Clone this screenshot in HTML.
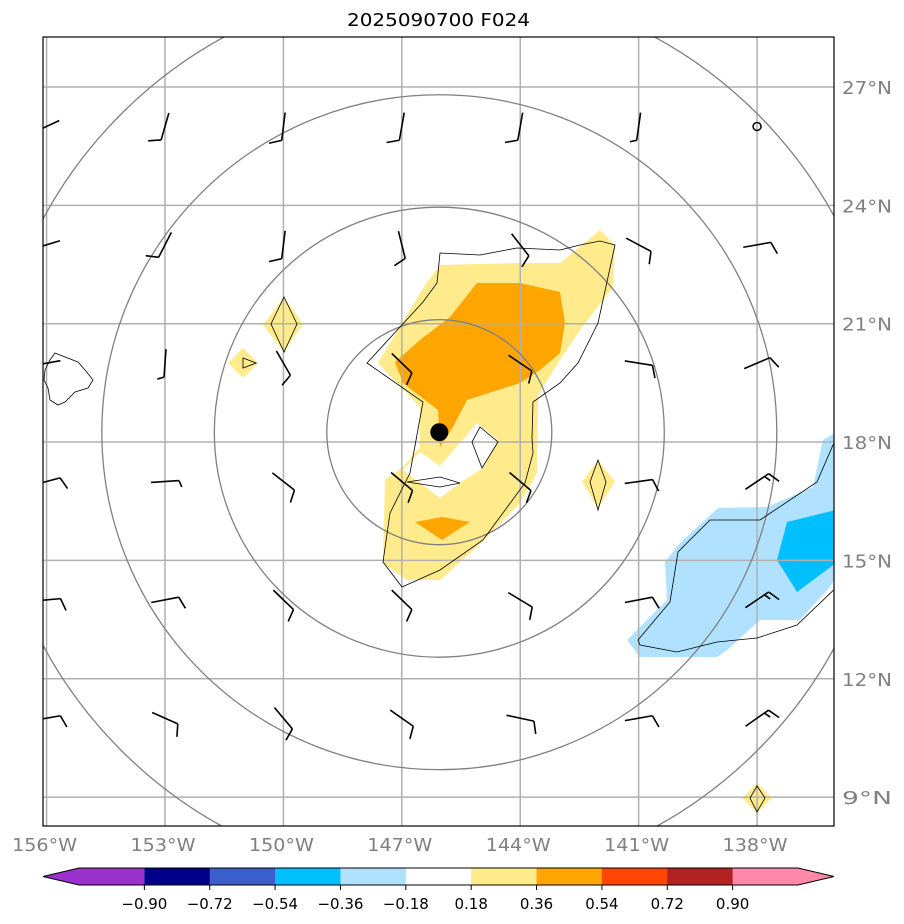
<!DOCTYPE html>
<html><head><meta charset="utf-8"><style>
html,body{margin:0;padding:0;background:#fff;}
svg{display:block;font-family:"DejaVu Sans","Liberation Sans",sans-serif;}
</style></head><body>
<svg id="chart" width="904" height="924" viewBox="0 0 904 924" xmlns="http://www.w3.org/2000/svg">
<text x="438.5" y="26" font-size="18" text-anchor="middle" textLength="183" lengthAdjust="spacingAndGlyphs">2025090700 F024</text>
<defs><clipPath id="mapclip"><rect x="43" y="37" width="791" height="789"/></clipPath></defs>
<rect x="43" y="37" width="791" height="789" fill="#fff"/>
<g id="fills" clip-path="url(#mapclip)"></g>
<g id="grid" clip-path="url(#mapclip)"></g>
<g id="lines" clip-path="url(#mapclip)"></g>
<g id="barbs" clip-path="url(#mapclip)"></g>
<rect x="43" y="37" width="791" height="789" fill="none" stroke="#000" stroke-width="1.2"/>
<g id="axes"></g>
<g id="cbar"></g>
</svg>
<script>
const lonTicks=[-156,-153,-150,-147,-144,-141,-138];
const latTicks=[27,24,21,18,15,12,9];
const ringRadiiDeg=[2.85,5.7,8.55,11.4];
const stormCenter=[-146.05,18.25];
const barbLons=[-156,-153,-150,-147,-144,-141,-138];
const barbLats=[26,23,20,17,14,11];
const barbAngles=[
 [155,106,97,100,100,98,0],
 [163,117,97,76,52,28,-10],
 [170,94,60,44,34,9,-23],
 [-15,-4,38,40,40,-8,-34],
 [-5,-11,44,44,31,-11,-34],
 [-10,24,50,35,12,-10,-35]];
const barbSpeeds=[
 [10,10,10,10,10,5,0],
 [10,10,10,10,10,10,10],
 [10,5,10,10,10,10,10],
 [10,5,10,10,10,10,15],
 [10,10,10,10,10,10,15],
 [10,10,10,10,10,10,15]];
const cbLevels=[-0.90,-0.72,-0.54,-0.36,-0.18,0.18,0.36,0.54,0.72,0.90];
const cbColors=["#9932cc","#00008b","#3a5fcd","#00bfff","#b0e2ff","#ffffff","#ffeb8c","#ffa500","#ff4500","#b22222","#ff88aa"];
const LON0=-153,X0=165,DX=39.47,LAT0=27,Y0=87,DY=39.45;
function X(lon){return X0+(lon-LON0)*DX;}
function Y(lat){return Y0+(LAT0-lat)*DY;}
function P(px,py){return [LON0+(px-X0)/DX,LAT0-(py-Y0)/DY];}
function poly(list){return list.map(p=>P(p[0],p[1]));}
const yellowMain=poly([[440,265],[520,263],[560,263],[600,230],[615,245],[613,287],[580,330],[560,360],[538,395],[538,407],[537,473],[520,503],[477,547],[440,580],[407,580],[383,563],[385,480],[403,467],[420,447],[420,407],[378,363],[425,285]]);
const whiteHole=poly([[403,470],[420,452],[440,466],[477,423],[498,440],[483,468],[460,483],[440,498]]);
const orangeMain=poly([[477,283],[520,283],[560,292],[565,323],[560,353],[540,370],[520,383],[467,400],[453,427],[440,447],[438,410],[403,383],[395,362],[420,340],[450,317]]);
const orangeSmall=poly([[415,522],[442,517],[470,522],[442,540]]);
const yellowDiamonds=[poly([[263,325],[284,297],[303,324],[284,352]]),poly([[228,363],[243,348],[258,363],[243,378]]),poly([[582,482],[598,460],[615,482],[598,508]]),poly([[742,798],[757,783],[772,798],[757,813]])];
const blueLight=poly([[718,508],[767,507],[813,487],[823,440],[836,432],[836,577],[830,587],[800,620],[760,620],[727,650],[717,657],[640,657],[627,640],[667,600],[665,562],[680,543]]);
const blueDark=poly([[787,522],[836,510],[836,563],[797,592],[777,560]]);
const lineMain=poly([[440,253],[480,255],[517,248],[560,250],[580,245],[600,241],[615,245],[598,323],[578,363],[560,383],[533,402],[532,438],[533,453],[525,483],[483,540],[440,570],[402,587],[383,562],[390,513],[410,473],[423,402],[367,363],[400,327],[423,302],[437,283]]);
const lineInner=[poly([[480,427],[498,442],[482,468],[472,442]]),poly([[407,482],[440,477],[460,483],[440,487]]),poly([[284,297],[297,324],[284,352],[271,324]]),poly([[243,358],[256,363],[243,368]]),poly([[598,460],[606,482],[598,510],[590,482]]),poly([[757,786],[765,798],[757,812],[750,798]])];
const lineBlue=poly([[840,436],[833,445],[817,482],[760,520],[710,520],[678,552],[670,602],[638,640],[640,645],[677,652],[717,642],[757,638],[797,625],[840,584]]);
const hawaii=poly([[50,360],[55,353],[65,357],[78,362],[85,370],[93,380],[88,388],[75,392],[65,402],[58,405],[50,400],[48,388],[44,380],[45,370]]);
const NS="http://www.w3.org/2000/svg";
function el(tag,attrs,parent){const e=document.createElementNS(NS,tag);for(const k in attrs)e.setAttribute(k,attrs[k]);parent.appendChild(e);return e;}
function pts(a){return a.map(p=>X(p[0]).toFixed(1)+","+Y(p[1]).toFixed(1)).join(" ");}
const fills=document.getElementById('fills');
function fillPoly(a,c,name){const e=el('polygon',{points:pts(a),fill:c},fills);

}
fillPoly(yellowMain,"#ffeb8c","fill-0p18-main");
fillPoly(whiteHole,"#ffffff","fill-gap");
fillPoly(orangeMain,"#ffa500","fill-0p36-main");
fillPoly(orangeSmall,"#ffa500","fill-0p36-small");
yellowDiamonds.forEach(d=>fillPoly(d,"#ffeb8c","fill-0p18-spot"));
fillPoly(blueLight,"#b0e2ff","fill-neg0p18");
fillPoly(blueDark,"#00bfff","fill-neg0p36");
const grid=document.getElementById('grid');
lonTicks.forEach(l=>{const e=el('line',{x1:X(l),x2:X(l),y1:37,y2:826,stroke:"#b0b0b0","stroke-width":1.5},grid);

});
latTicks.forEach(l=>{const e=el('line',{y1:Y(l),y2:Y(l),x1:43,x2:834,stroke:"#b0b0b0","stroke-width":1.5},grid);

});
const lines=document.getElementById('lines');
ringRadiiDeg.forEach(r=>{const e=el('circle',{cx:X(stormCenter[0]),cy:Y(stormCenter[1]),r:r*DX,fill:"none",stroke:"#808080","stroke-width":1.3},lines);

});
function linePoly(a,closed,name){const e=el(closed?'polygon':'polyline',{points:pts(a),fill:"none",stroke:"#000","stroke-width":0.8},lines);

}
linePoly(lineMain,true,"contour-line-main");
lineInner.forEach(a=>linePoly(a,true,"contour-line-inner"));
linePoly(lineBlue,false,"contour-line-negative");
linePoly(hawaii,true,"coastline-hawaii");
const dot=el('circle',{cx:X(stormCenter[0]),cy:Y(stormCenter[1]),r:9,fill:"#000"},lines);


const barbs=document.getElementById('barbs');
const L=28;
barbLats.forEach((lat,i)=>barbLons.forEach((lon,j)=>{
 const cx=X(lon),cy=Y(lat),s=barbSpeeds[i][j],a=barbAngles[i][j]*Math.PI/180;
 const g=el('g',{},barbs);
 
 
 if(s===0){el('circle',{cx:cx,cy:cy,r:4,fill:"none",stroke:"#000","stroke-width":1.5},g);return;}
 const dx=Math.cos(a),dy=Math.sin(a);
 const x1=cx-dx*L/2,y1=cy-dy*L/2,x2=cx+dx*L/2,y2=cy+dy*L/2;
 let d=`M${x1},${y1}L${x2},${y2}`;
 const ta=a+70*Math.PI/180,tx=Math.cos(ta),ty=Math.sin(ta);
 let rem=s,pos=0;
 while(rem>0){const len=rem>=10?13:7;const bx=x2-dx*pos,by=y2-dy*pos;
  d+=`M${bx},${by}l${tx*len},${ty*len}`;rem-=rem>=10?10:5;pos+=5;}
 el('path',{d:d,fill:"none",stroke:"#000","stroke-width":1.6},g);
}));
const axes=document.getElementById('axes');
lonTicks.forEach(l=>{const t=el('text',{x:X(l)-2,y:851,"font-size":18,fill:"#808080","text-anchor":"middle",textLength:65,lengthAdjust:"spacingAndGlyphs"},axes);t.textContent=(-l)+"°W";

});
latTicks.forEach(l=>{const t=el('text',{x:842,y:Y(l)+7,"font-size":18,fill:"#808080",textLength:50,lengthAdjust:"spacingAndGlyphs"},axes);t.textContent=l+"°N";

});
const cb=document.getElementById('cbar');
const cbx0=79,cbx1=798,cby=868,cbh=17,seg=(cbx1-cbx0)/cbColors.length;
cbColors.forEach((c,k)=>{let e;
 if(k===0) e=el('polygon',{points:`43,${cby+cbh/2} ${cbx0},${cby} ${cbx0+seg},${cby} ${cbx0+seg},${cby+cbh} ${cbx0},${cby+cbh}`,fill:c},cb);
 else if(k===cbColors.length-1) e=el('polygon',{points:`${cbx0+k*seg},${cby} ${cbx1},${cby} 834,${cby+cbh/2} ${cbx1},${cby+cbh} ${cbx0+k*seg},${cby+cbh}`,fill:c},cb);
 else e=el('rect',{x:cbx0+k*seg,y:cby,width:seg+0.5,height:cbh,fill:c},cb);
 
 });
el('polygon',{points:`43,${cby+cbh/2} ${cbx0},${cby} ${cbx1},${cby} 834,${cby+cbh/2} ${cbx1},${cby+cbh} ${cbx0},${cby+cbh}`,fill:"none",stroke:"#000","stroke-width":1},cb);
cbLevels.forEach((v,k)=>{const x=cbx0+(k+1)*seg;
 el('line',{x1:x,x2:x,y1:cby+cbh,y2:cby+cbh+5,stroke:"#000","stroke-width":1},cb);
 const t=el('text',{x:x,y:909,"font-size":15,"text-anchor":"middle"},cb);t.textContent=(v<0?"\u2212":"")+Math.abs(v).toFixed(2);
 
 });
</script>
</body></html>
